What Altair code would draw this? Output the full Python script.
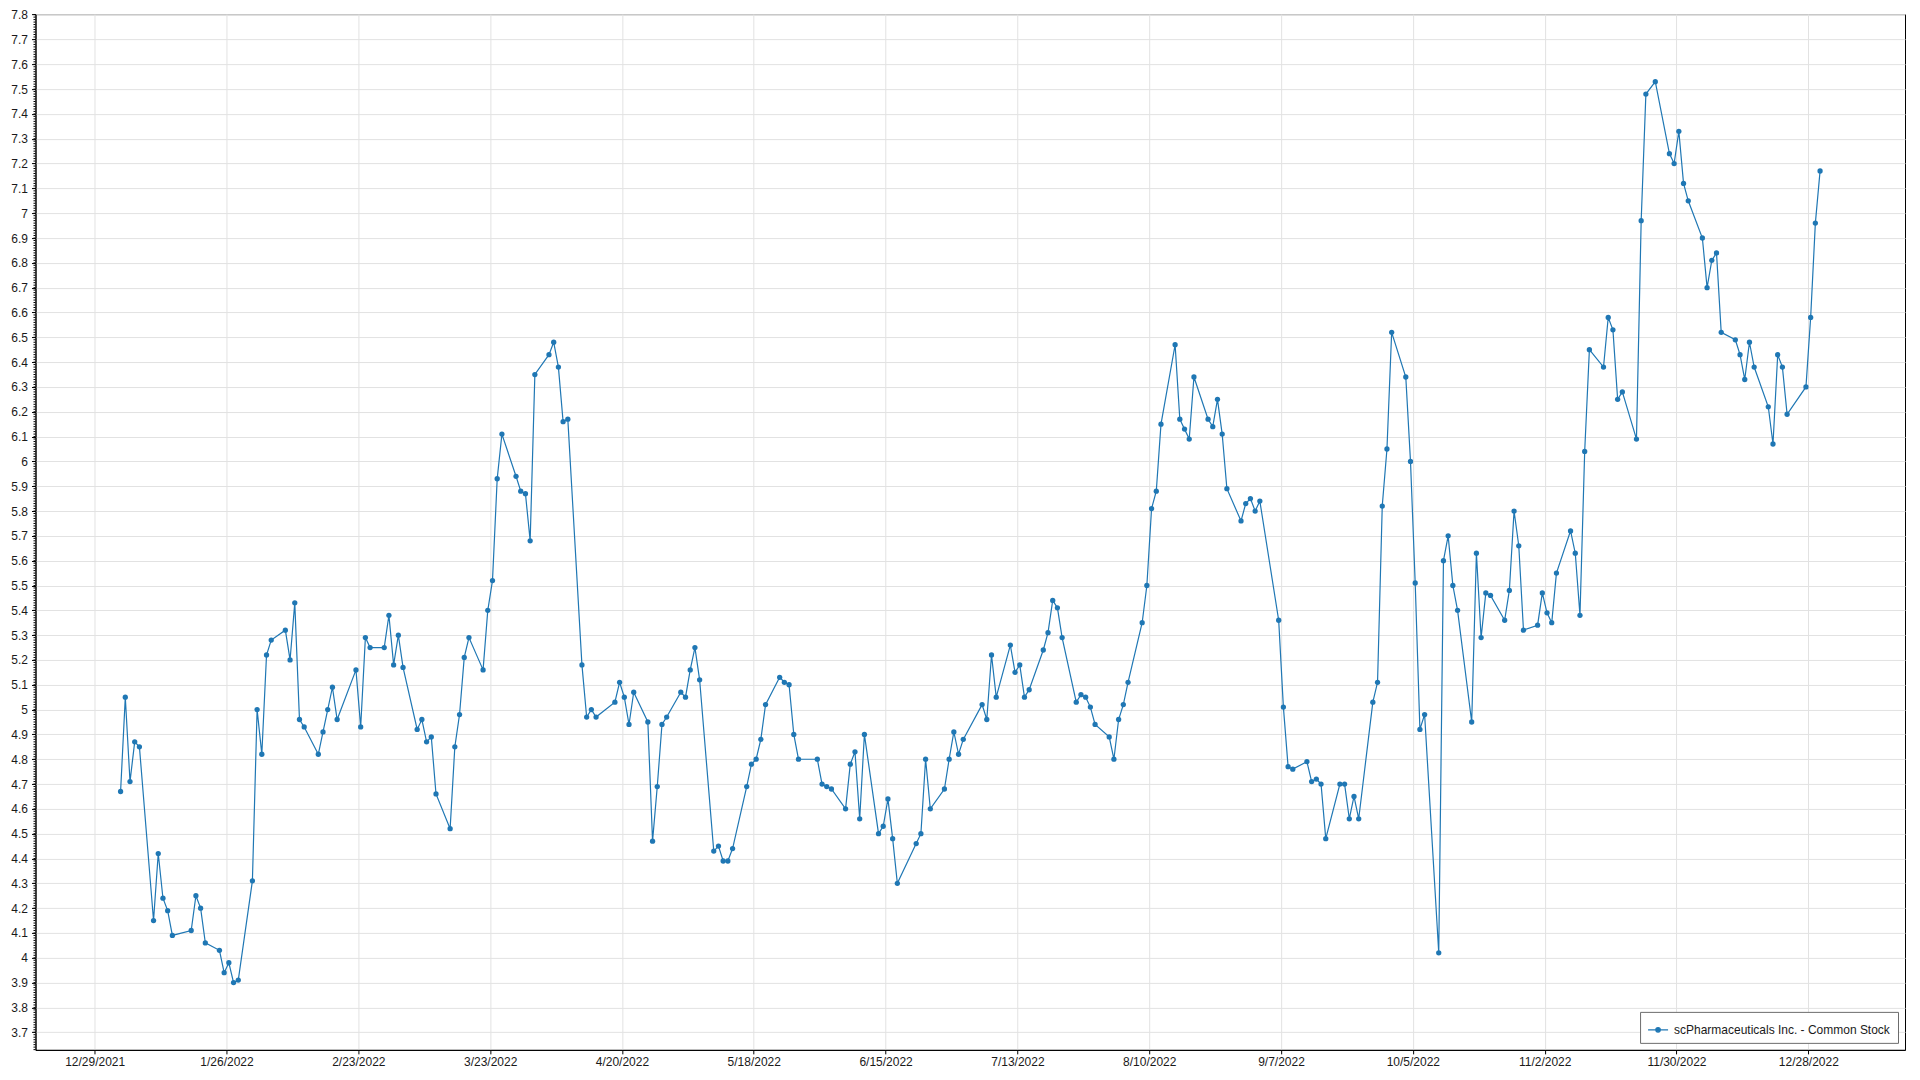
import altair as alt
import pandas as pd

# ---- data ----
dates = [
    "2022-01-03", "2022-01-04", "2022-01-05", "2022-01-06", "2022-01-07",
    "2022-01-10", "2022-01-11", "2022-01-12", "2022-01-13", "2022-01-14",
    "2022-01-18", "2022-01-19", "2022-01-20", "2022-01-21",
    "2022-01-24", "2022-01-25", "2022-01-26", "2022-01-27", "2022-01-28",
    "2022-01-31", "2022-02-01", "2022-02-02", "2022-02-03", "2022-02-04",
    "2022-02-07", "2022-02-08", "2022-02-09", "2022-02-10", "2022-02-11",
    "2022-02-14", "2022-02-15", "2022-02-16", "2022-02-17", "2022-02-18",
    "2022-02-22", "2022-02-23", "2022-02-24", "2022-02-25",
    "2022-02-28", "2022-03-01", "2022-03-02", "2022-03-03", "2022-03-04",
    "2022-03-07", "2022-03-08", "2022-03-09", "2022-03-10", "2022-03-11",
    "2022-03-14", "2022-03-15", "2022-03-16", "2022-03-17", "2022-03-18",
    "2022-03-21", "2022-03-22", "2022-03-23", "2022-03-24", "2022-03-25",
    "2022-03-28", "2022-03-29", "2022-03-30", "2022-03-31", "2022-04-01",
    "2022-04-04", "2022-04-05", "2022-04-06", "2022-04-07", "2022-04-08",
    "2022-04-11", "2022-04-12", "2022-04-13", "2022-04-14",
    "2022-04-18", "2022-04-19", "2022-04-20", "2022-04-21", "2022-04-22",
    "2022-04-25", "2022-04-26", "2022-04-27", "2022-04-28", "2022-04-29",
    "2022-05-02", "2022-05-03", "2022-05-04", "2022-05-05", "2022-05-06",
    "2022-05-09", "2022-05-10", "2022-05-11", "2022-05-12", "2022-05-13",
    "2022-05-16", "2022-05-17", "2022-05-18", "2022-05-19", "2022-05-20",
    "2022-05-23", "2022-05-24", "2022-05-25", "2022-05-26", "2022-05-27",
    "2022-05-31", "2022-06-01", "2022-06-02", "2022-06-03",
    "2022-06-06", "2022-06-07", "2022-06-08", "2022-06-09", "2022-06-10",
    "2022-06-13", "2022-06-14", "2022-06-15", "2022-06-16", "2022-06-17",
    "2022-06-21", "2022-06-22", "2022-06-23", "2022-06-24",
    "2022-06-27", "2022-06-28", "2022-06-29", "2022-06-30", "2022-07-01",
    "2022-07-05", "2022-07-06", "2022-07-07", "2022-07-08",
    "2022-07-11", "2022-07-12", "2022-07-13", "2022-07-14", "2022-07-15",
    "2022-07-18", "2022-07-19", "2022-07-20", "2022-07-21", "2022-07-22",
    "2022-07-25", "2022-07-26", "2022-07-27", "2022-07-28", "2022-07-29",
    "2022-08-01", "2022-08-02", "2022-08-03", "2022-08-04", "2022-08-05",
    "2022-08-08", "2022-08-09", "2022-08-10", "2022-08-11", "2022-08-12",
    "2022-08-15", "2022-08-16", "2022-08-17", "2022-08-18", "2022-08-19",
    "2022-08-22", "2022-08-23", "2022-08-24", "2022-08-25", "2022-08-26",
    "2022-08-29", "2022-08-30", "2022-08-31", "2022-09-01", "2022-09-02",
    "2022-09-06", "2022-09-07", "2022-09-08", "2022-09-09",
    "2022-09-12", "2022-09-13", "2022-09-14", "2022-09-15", "2022-09-16",
    "2022-09-19", "2022-09-20", "2022-09-21", "2022-09-22", "2022-09-23",
    "2022-09-26", "2022-09-27", "2022-09-28", "2022-09-29", "2022-09-30",
    "2022-10-03", "2022-10-04", "2022-10-05", "2022-10-06", "2022-10-07",
    "2022-10-10", "2022-10-11", "2022-10-12", "2022-10-13", "2022-10-14",
    "2022-10-17", "2022-10-18", "2022-10-19", "2022-10-20", "2022-10-21",
    "2022-10-24", "2022-10-25", "2022-10-26", "2022-10-27", "2022-10-28",
    "2022-10-31", "2022-11-01", "2022-11-02", "2022-11-03", "2022-11-04",
    "2022-11-07", "2022-11-08", "2022-11-09", "2022-11-10", "2022-11-11",
    "2022-11-14", "2022-11-15", "2022-11-16", "2022-11-17", "2022-11-18",
    "2022-11-21", "2022-11-22", "2022-11-23", "2022-11-25",
    "2022-11-28", "2022-11-29", "2022-11-30", "2022-12-01", "2022-12-02",
    "2022-12-05", "2022-12-06", "2022-12-07", "2022-12-08", "2022-12-09",
    "2022-12-12", "2022-12-13", "2022-12-14", "2022-12-15", "2022-12-16",
    "2022-12-19", "2022-12-20", "2022-12-21", "2022-12-22", "2022-12-23",
    "2022-12-27", "2022-12-28", "2022-12-29", "2022-12-30",
]

prices = [
    4.67, 5.05, 4.71, 4.87, 4.85,
    4.15, 4.42, 4.24, 4.19, 4.09,
    4.11, 4.25, 4.20, 4.06,
    4.03, 3.94, 3.98, 3.90, 3.91,
    4.31, 5.00, 4.82, 5.22, 5.28,
    5.32, 5.20, 5.43, 4.96, 4.93,
    4.82, 4.91, 5.00, 5.09, 4.96,
    5.16, 4.93, 5.29, 5.25,
    5.25, 5.38, 5.18, 5.30, 5.17,
    4.92, 4.96, 4.87, 4.89, 4.66,
    4.52, 4.85, 4.98, 5.21, 5.29,
    5.16, 5.40, 5.52, 5.93, 6.11,
    5.94, 5.88, 5.87, 5.68, 6.35,
    6.43, 6.48, 6.38, 6.16, 6.17,
    5.18, 4.97, 5.00, 4.97,
    5.03, 5.11, 5.05, 4.94, 5.07,
    4.95, 4.47, 4.69, 4.94, 4.97,
    5.07, 5.05, 5.16, 5.25, 5.12,
    4.43, 4.45, 4.39, 4.39, 4.44,
    4.69, 4.78, 4.80, 4.88, 5.02,
    5.13, 5.11, 5.10, 4.90, 4.80,
    4.80, 4.70, 4.69, 4.68,
    4.60, 4.78, 4.83, 4.56, 4.90,
    4.50, 4.53, 4.64, 4.48, 4.30,
    4.46, 4.50, 4.80, 4.60,
    4.68, 4.80, 4.91, 4.82, 4.88,
    5.02, 4.96, 5.22, 5.05,
    5.26, 5.15, 5.18, 5.05, 5.08,
    5.24, 5.31, 5.44, 5.41, 5.29,
    5.03, 5.06, 5.05, 5.01, 4.94,
    4.89, 4.80, 4.96, 5.02, 5.11,
    5.35, 5.50, 5.81, 5.88, 6.15,
    6.47, 6.17, 6.13, 6.09, 6.34,
    6.17, 6.14, 6.25, 6.11, 5.89,
    5.76, 5.83, 5.85, 5.80, 5.84,
    5.36, 5.01, 4.77, 4.76,
    4.79, 4.71, 4.72, 4.70, 4.48,
    4.70, 4.70, 4.56, 4.65, 4.56,
    5.03, 5.11, 5.82, 6.05, 6.52,
    6.34, 6.00, 5.51, 4.92, 4.98,
    4.02, 5.60, 5.70, 5.50, 5.40,
    4.95, 5.63, 5.29, 5.47, 5.46,
    5.36, 5.48, 5.80, 5.66, 5.32,
    5.34, 5.47, 5.39, 5.35, 5.55,
    5.72, 5.63, 5.38, 6.04, 6.45,
    6.38, 6.58, 6.53, 6.25, 6.28,
    6.09, 6.97, 7.48, 7.53,
    7.24, 7.20, 7.33, 7.12, 7.05,
    6.90, 6.70, 6.81, 6.84, 6.52,
    6.49, 6.43, 6.33, 6.48, 6.38,
    6.22, 6.07, 6.43, 6.38, 6.19,
    6.30, 6.58, 6.96, 7.17,
]

series_name = "scPharmaceuticals Inc. - Common Stock"

# x tick dates (year, month, day)
x_ticks = [
    (2021, 12, 29), (2022, 1, 26), (2022, 2, 23), (2022, 3, 23),
    (2022, 4, 20), (2022, 5, 18), (2022, 6, 15), (2022, 7, 13),
    (2022, 8, 10), (2022, 9, 7), (2022, 10, 5), (2022, 11, 2),
    (2022, 11, 30), (2022, 12, 28),
]
y_ticks = [round(3.7 + 0.1 * i, 1) for i in range(42)]
y_minor = [round(3.63 + 0.01 * i, 2) for i in range(418)]

Y_DOMAIN = [3.629, 7.802]
X_DOMAIN = [
    alt.DateTime(year=2021, month=12, date=16, hours=10, minutes=12),
    alt.DateTime(year=2023, month=1, date=17, hours=13),
]

FONT = "Liberation Sans"
BLUE = "#1f77b4"

df = pd.DataFrame({
    "date": [d + "T12:00:00" for d in dates],
    "price": prices,
    "series": [series_name] * len(dates),
})

legend_symbol = (
    "M-1,0L1,0M-0.22,0a0.22,0.22 0 1,0 0.44,0a0.22,0.22 0 1,0 -0.44,0Z"
)

x_enc = alt.X(
    "date:T",
    scale=alt.Scale(domain=X_DOMAIN),
    axis=alt.Axis(
        values=[alt.DateTime(year=y, month=m, date=d) for (y, m, d) in x_ticks],
        format="%-m/%-d/%Y",
        title=None,
        grid=True,
        tickSize=4,
        labelPadding=3,
    ),
)
y_enc = alt.Y(
    "price:Q",
    scale=alt.Scale(domain=Y_DOMAIN, nice=False, zero=False),
    axis=alt.Axis(
        values=y_ticks,
        format=".1~f",
        title=None,
        grid=True,
        tickSize=4,
        labelPadding=4,
    ),
)
color_enc = alt.Color(
    "series:N",
    scale=alt.Scale(range=[BLUE]),
    legend=alt.Legend(
        title=None,
        orient="bottom-right",
        offset=7,
        symbolType=legend_symbol,
        symbolSize=400,
        symbolStrokeWidth=1.3,
        symbolFillColor=BLUE,
        symbolStrokeColor=BLUE,
        fillColor="white",
        strokeColor="#6b6b6b",
        padding=7,
        labelFont=FONT,
        labelFontSize=12,
        labelColor="#1a1a1a",
        labelOffset=5,
        labelLimit=0,
        cornerRadius=0,
    ),
)

line = alt.Chart(df).mark_line(strokeWidth=1.2, color=BLUE).encode(
    x=x_enc, y=y_enc, color=color_enc
)
points = alt.Chart(df).mark_point(filled=True, size=28, opacity=1, color=BLUE).encode(
    x=x_enc, y=y_enc, color=color_enc
)

# minor ticks on the y axis (same field name so the axis is shared)
minor_df = pd.DataFrame({"price": y_minor})
minor = alt.Chart(minor_df).mark_rule(color="#000000", strokeWidth=1).encode(
    y=y_enc,
    x=alt.value(-2),
    x2=alt.value(0),
)

chart = (
    alt.layer(line, points, minor)
    .properties(
        width=1870,
        height=1036,
        autosize=alt.AutoSizeParams(type="none"),
        padding={"left": 27.5, "top": 6, "right": 7, "bottom": 22},
        background="white",
    )
    .configure_view(stroke="#000000", strokeWidth=1)
    .configure_axis(
        domainColor="#000000",
        domainWidth=1,
        tickColor="#000000",
        gridColor="#e2e2e2",
        gridWidth=1,
        labelFont=FONT,
        labelFontSize=12,
        labelColor="#1a1a1a",
    )
)

chart.save("out.html", embed_options={"renderer": "svg", "actions": False})
